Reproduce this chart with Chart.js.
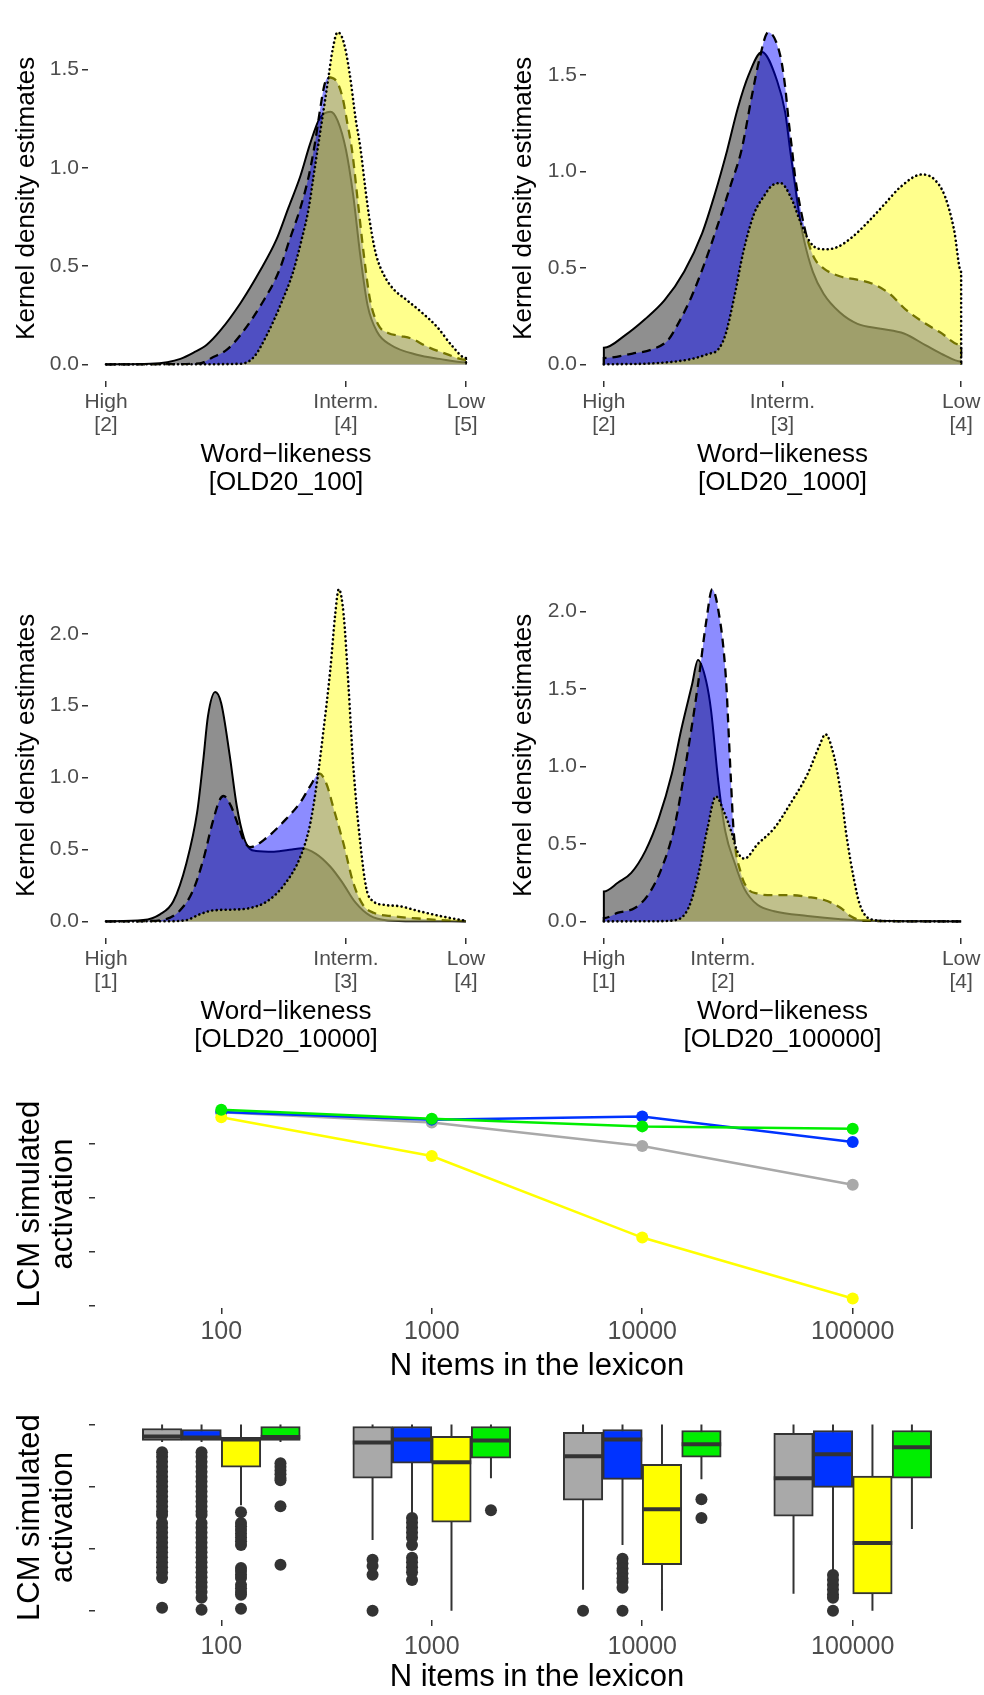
<!DOCTYPE html>
<html>
<head>
<meta charset="utf-8">
<script src="https://cdn.jsdelivr.net/npm/chart.js@4.4.1/dist/chart.umd.min.js"></script>
<style>
  body { margin: 0; background: #ffffff; width: 984px; height: 1695px; position: relative; overflow: hidden; }
  canvas { position: absolute; }
</style>
</head>
<body>
<canvas id="d100" style="left:0px;top:0px" width="492" height="500"></canvas>
<canvas id="d1000" style="left:492px;top:0px" width="492" height="500"></canvas>
<canvas id="d10000" style="left:0px;top:557px" width="492" height="500"></canvas>
<canvas id="d100000" style="left:492px;top:557px" width="492" height="500"></canvas>
<canvas id="lineChart" style="left:0px;top:1090px" width="984" height="297"></canvas>
<canvas id="boxChart" style="left:0px;top:1405px" width="984" height="290"></canvas>
<script>
// density curves: [OLD20 value, density]
const gray100 = [[2.0,0],[2.37,0.003],[2.51,0.011],[2.62,0.028],[2.73,0.06],[2.84,0.10],[2.95,0.17],[3.12,0.311],[3.28,0.472],[3.42,0.634],[3.52,0.796],[3.62,0.958],[3.70,1.12],[3.78,1.25],[3.87,1.285],[3.93,1.24],[4.0,1.09],[4.06,0.86],[4.12,0.55],[4.18,0.30],[4.26,0.165],[4.37,0.10],[4.59,0.049],[4.78,0.028],[5.0,0.011],[5.0,0]];
const blue100 = [[2.0,0],[2.5,0.001],[2.78,0.005],[2.89,0.036],[3.01,0.076],[3.12,0.149],[3.30,0.311],[3.44,0.472],[3.53,0.634],[3.62,0.796],[3.69,0.958],[3.74,1.12],[3.78,1.28],[3.82,1.42],[3.85,1.46],[3.92,1.44],[3.97,1.36],[4.01,1.23],[4.05,1.09],[4.10,0.82],[4.15,0.55],[4.20,0.33],[4.27,0.20],[4.35,0.16],[4.45,0.145],[4.55,0.13],[4.67,0.092],[4.84,0.052],[5.0,0.023],[5.0,0]];
const yellow100 = [[2.0,0],[2.8,0.001],[3.12,0.003],[3.23,0.036],[3.34,0.149],[3.46,0.311],[3.56,0.472],[3.63,0.634],[3.69,0.796],[3.73,0.958],[3.77,1.12],[3.81,1.28],[3.85,1.443],[3.89,1.605],[3.93,1.689],[3.98,1.64],[4.03,1.48],[4.08,1.25],[4.12,1.10],[4.16,0.90],[4.20,0.72],[4.25,0.56],[4.32,0.45],[4.40,0.38],[4.50,0.33],[4.62,0.27],[4.76,0.19],[4.89,0.09],[5.0,0.032],[5.0,0]];

const gray1000 = [[2.0,0],[2.0,0.086],[2.12,0.152],[2.23,0.234],[2.34,0.333],[2.45,0.482],[2.55,0.68],[2.62,0.88],[2.69,1.11],[2.75,1.33],[2.81,1.50],[2.885,1.62],[2.97,1.47],[3.015,1.307],[3.043,1.109],[3.063,0.977],[3.09,0.80],[3.12,0.647],[3.17,0.48],[3.23,0.366],[3.32,0.27],[3.42,0.21],[3.55,0.185],[3.68,0.16],[3.80,0.10],[3.90,0.05],[4.0,0.015],[4.0,0]];
const blue1000 = [[2.0,0],[2.0,0.033],[2.16,0.056],[2.27,0.078],[2.36,0.127],[2.41,0.201],[2.49,0.35],[2.56,0.515],[2.64,0.73],[2.71,0.93],[2.77,1.11],[2.83,1.40],[2.87,1.58],[2.92,1.723],[2.987,1.604],[3.015,1.439],[3.033,1.274],[3.052,1.125],[3.07,0.977],[3.10,0.812],[3.14,0.647],[3.18,0.548],[3.23,0.498],[3.32,0.457],[3.41,0.441],[3.51,0.416],[3.60,0.366],[3.69,0.284],[3.79,0.218],[3.88,0.168],[4.0,0.10],[4.0,0]];
const yellow1000 = [[2.0,0],[2.30,0.007],[2.49,0.028],[2.58,0.053],[2.64,0.078],[2.68,0.152],[2.73,0.35],[2.78,0.581],[2.84,0.779],[2.90,0.878],[2.94,0.927],[2.99,0.94],[3.05,0.86],[3.10,0.74],[3.15,0.64],[3.20,0.60],[3.25,0.597],[3.31,0.61],[3.39,0.66],[3.48,0.74],[3.57,0.83],[3.66,0.92],[3.78,0.985],[3.85,0.96],[3.91,0.87],[3.96,0.70],[4.0,0.48],[4.0,0]];

const gray10000 = [[1.0,0],[1.31,0.009],[1.45,0.049],[1.56,0.138],[1.67,0.405],[1.76,0.761],[1.81,1.117],[1.85,1.429],[1.91,1.595],[1.96,1.517],[2.03,1.16],[2.09,0.801],[2.15,0.58],[2.20,0.503],[2.25,0.49],[2.40,0.485],[2.55,0.50],[2.63,0.509],[2.75,0.47],[2.87,0.38],[2.97,0.27],[3.08,0.13],[3.20,0.04],[3.35,0.007],[3.6,0.001],[4.0,0]];
const blue10000 = [[1.0,0],[1.33,0.002],[1.50,0.016],[1.61,0.071],[1.72,0.205],[1.81,0.427],[1.89,0.694],[1.95,0.85],[1.98,0.872],[2.04,0.805],[2.10,0.672],[2.15,0.56],[2.20,0.516],[2.34,0.583],[2.48,0.694],[2.62,0.828],[2.70,0.939],[2.78,1.028],[2.84,0.95],[2.89,0.805],[2.98,0.538],[3.06,0.27],[3.14,0.116],[3.23,0.06],[3.40,0.035],[3.60,0.02],[3.80,0.008],[4.0,0.002]];
const yellow10000 = [[1.0,0],[1.5,0.001],[1.67,0.009],[1.78,0.049],[1.89,0.076],[2.06,0.082],[2.20,0.093],[2.34,0.138],[2.48,0.249],[2.62,0.45],[2.70,0.672],[2.76,0.979],[2.81,1.312],[2.87,1.757],[2.91,2.135],[2.94,2.31],[2.98,2.135],[3.02,1.646],[3.06,1.09],[3.12,0.538],[3.17,0.227],[3.23,0.138],[3.31,0.116],[3.45,0.105],[3.61,0.071],[3.78,0.038],[4.0,0.004]];

const gray100000 = [[1.0,0],[1.0,0.193],[1.12,0.251],[1.23,0.313],[1.35,0.457],[1.46,0.663],[1.57,0.951],[1.65,1.239],[1.74,1.527],[1.79,1.687],[1.86,1.547],[1.90,1.362],[1.96,0.909],[2.02,0.58],[2.10,0.374],[2.18,0.21],[2.29,0.107],[2.43,0.066],[2.71,0.035],[2.99,0.014],[3.27,0.004],[4.0,0]];
const blue100000 = [[1.0,0],[1.0,0.021],[1.12,0.056],[1.26,0.086],[1.37,0.169],[1.48,0.333],[1.59,0.601],[1.70,1.074],[1.79,1.527],[1.86,1.938],[1.91,2.144],[1.98,1.918],[2.01,1.714],[2.03,1.506],[2.044,1.28],[2.067,0.909],[2.09,0.58],[2.15,0.313],[2.21,0.21],[2.29,0.179],[2.43,0.169],[2.57,0.169],[2.71,0.158],[2.85,0.138],[2.99,0.086],[3.07,0.035],[3.18,0.004],[4.0,0]];
const yellow100000 = [[1.0,0],[1.40,0.001],[1.60,0.008],[1.71,0.086],[1.79,0.292],[1.87,0.601],[1.94,0.807],[2.01,0.704],[2.07,0.58],[2.12,0.453],[2.18,0.405],[2.29,0.498],[2.43,0.601],[2.57,0.765],[2.71,0.951],[2.81,1.134],[2.86,1.208],[2.93,1.074],[2.99,0.827],[3.04,0.539],[3.10,0.272],[3.15,0.107],[3.24,0.014],[3.40,0.002],[4.0,0]];

const densTicks15 = [0, 0.5, 1.0, 1.5];
const densTicks20 = [0, 0.5, 1.0, 1.5, 2.0];

// mean activation per lexicon size
const lexiconSizes = ['100', '1000', '10000', '100000'];
const meanGray = [0.915, 0.877, 0.790, 0.647];
const meanBlue = [0.916, 0.888, 0.900, 0.805];
const meanYellow = [0.897, 0.753, 0.451, 0.225];
const meanGreen = [0.925, 0.891, 0.863, 0.854];
const lineTicksY = [0.2, 0.4, 0.6, 0.8];

// boxplots: [lower whisker, q1, median, q3, upper whisker] per lexicon size
const grayBox = [[0.93,0.936,0.952,0.984,1.0],[0.535,0.784,0.928,0.992,1.0],[0.334,0.695,0.872,0.968,1.0],[0.318,0.631,0.784,0.964,1.0]];
const blueBox = [[0.93,0.936,0.948,0.980,1.0],[0.635,0.844,0.940,0.992,1.0],[0.515,0.779,0.940,0.980,1.0],[0.414,0.747,0.880,0.976,1.0]];
const yellowBox = [[0.675,0.828,0.940,0.948,1.0],[0.25,0.607,0.848,0.952,1.0],[0.25,0.435,0.659,0.840,1.0],[0.25,0.318,0.523,0.792,1.0]];
const greenBox = [[0.93,0.936,0.950,0.992,1.0],[0.784,0.864,0.936,0.992,1.0],[0.779,0.868,0.920,0.976,1.0],[0.579,0.784,0.908,0.976,1.0]];
const grayOut = [
  [0.888,0.87,0.85,0.83,0.81,0.79,0.77,0.75,0.73,0.71,0.69,0.67,0.65,0.635,0.603,0.585,0.565,0.545,0.525,0.505,0.485,0.465,0.445,0.425,0.405,0.382,0.262],
  [0.455,0.43,0.395,0.25],
  [0.25],
  []
];
const blueOut = [
  [0.888,0.87,0.85,0.83,0.81,0.79,0.77,0.75,0.73,0.71,0.69,0.67,0.65,0.635,0.603,0.585,0.565,0.545,0.525,0.505,0.485,0.465,0.445,0.425,0.405,0.385,0.365,0.345,0.325,0.302,0.254],
  [0.623,0.605,0.585,0.565,0.545,0.515,0.463,0.445,0.425,0.405,0.374],
  [0.459,0.44,0.42,0.40,0.38,0.366,0.342,0.25],
  [0.394,0.375,0.355,0.335,0.315,0.302,0.25]
];
const yellowOut = [
  [0.647,0.603,0.59,0.575,0.56,0.545,0.53,0.515,0.422,0.41,0.395,0.382,0.354,0.34,0.325,0.314,0.258],
  [],
  [],
  []
];
const greenOut = [
  [0.844,0.83,0.815,0.80,0.785,0.775,0.671,0.435],
  [0.655],
  [0.699,0.623],
  []
];
const boxTicksY = [0.25, 0.5, 0.75, 1.0];

Chart.defaults.font.family = "'Liberation Sans', Arial, sans-serif";
Chart.defaults.color = '#4d4d4d';

const curveFills = ['rgba(0,0,0,0.44)', 'rgba(0,0,255,0.45)', 'rgba(255,255,0,0.45)'];
const curveDashes = [[], [9, 6], [0.1, 4.4]];
const curveWidths = [2, 2.3, 2.6];
const curveCaps = ['butt', 'butt', 'round'];
const seriesColors = ['#a9a9a9', '#0033ff', '#ffff00', '#00ee00'];
const boxDodge = [-0.28125, -0.09375, 0.09375, 0.28125];

function tickGrid() {
  return { offset: false, drawOnChartArea: false, drawTicks: true, tickLength: 6, color: '#333333', lineWidth: 1.5 };
}

function expanded(values) {
  const lo = Math.min(...values), hi = Math.max(...values);
  const pad = (hi - lo) * 0.05;
  return [lo - pad, hi + pad];
}

function densityChart(id, curves, xTicks, xTickLabels, xTitle, yTicks, leftWidth, yTitlePad, rightPad) {
  const xSpan = xTicks[xTicks.length - 1] - xTicks[0];
  const yRange = expanded(curves.flat().map(p => p[1]));
  new Chart(document.getElementById(id), {
    type: 'line',
    data: {
      datasets: curves.map((c, i) => ({
        data: c.map(p => ({ x: p[0], y: p[1] })),
        borderColor: '#000000',
        backgroundColor: curveFills[i],
        fill: 'origin',
        borderWidth: curveWidths[i],
        borderDash: curveDashes[i],
        borderCapStyle: curveCaps[i],
        pointRadius: 0,
        cubicInterpolationMode: 'monotone',
        order: 3 - i
      }))
    },
    options: {
      responsive: false,
      animation: false,
      layout: { autoPadding: false, padding: { left: 0, right: rightPad, top: 0, bottom: 0 } },
      plugins: { legend: { display: false }, tooltip: { enabled: false } },
      scales: {
        x: {
          type: 'linear',
          offset: false,
          min: xTicks[0] - 0.05 * xSpan,
          max: xTicks[xTicks.length - 1] + 0.05 * xSpan,
          afterBuildTicks: s => { s.ticks = xTicks.map(v => ({ value: v })); },
          afterFit: s => { s.height = 119; },
          ticks: { autoSkip: false, maxRotation: 0, padding: 3.5, color: '#4d4d4d',
                   font: { size: 21, lineHeight: 1.1 }, callback: (v, i) => xTickLabels[i] },
          grid: tickGrid(),
          border: { display: false },
          title: { display: true, text: xTitle, color: '#000000',
                   font: { size: 26, lineHeight: 1.077 }, padding: { top: 0, bottom: 3 } }
        },
        y: {
          type: 'linear',
          min: yRange[0],
          max: yRange[1],
          afterBuildTicks: s => { s.ticks = yTicks.map(v => ({ value: v })); },
          afterFit: s => { s.width = leftWidth; },
          ticks: { autoSkip: false, padding: 3, color: '#4d4d4d', font: { size: 21 },
                   callback: v => v.toFixed(1) },
          grid: tickGrid(),
          border: { display: false },
          title: { display: true, text: 'Kernel density estimates', color: '#000000',
                   font: { size: 26, lineHeight: 1.077 }, padding: { top: yTitlePad, bottom: 0 } }
        }
      }
    }
  });
}

densityChart('d100', [gray100, blue100, yellow100], [2, 4, 5],
  [['High', '[2]'], ['Interm.', '[4]'], ['Low', '[5]']],
  ['Word\u2212likeness', '[OLD20_100]'], densTicks15, 88, 13, 8);
densityChart('d1000', [gray1000, blue1000, yellow1000], [2, 3, 4],
  [['High', '[2]'], ['Interm.', '[3]'], ['Low', '[4]']],
  ['Word\u2212likeness', '[OLD20_1000]'], densTicks15, 94, 18, 2);
densityChart('d10000', [gray10000, blue10000, yellow10000], [1, 3, 4],
  [['High', '[1]'], ['Interm.', '[3]'], ['Low', '[4]']],
  ['Word\u2212likeness', '[OLD20_10000]'], densTicks20, 88, 13, 8);
densityChart('d100000', [gray100000, blue100000, yellow100000], [1, 2, 4],
  [['High', '[1]'], ['Interm.', '[2]'], ['Low', '[4]']],
  ['Word\u2212likeness', '[OLD20_100000]'], densTicks20, 94, 18, 2);

function lexiconX(bottomHeight, tickPad, titleLineHeight, titlePadBottom) {
  return {
    type: 'linear',
    offset: false,
    min: -0.6,
    max: lexiconSizes.length - 0.4,
    afterBuildTicks: s => { s.ticks = lexiconSizes.map((_, i) => ({ value: i })); },
    afterFit: s => { s.height = bottomHeight; },
    ticks: { autoSkip: false, maxRotation: 0, padding: tickPad, color: '#4d4d4d',
             font: { size: 25, lineHeight: 1.2 }, callback: (v, i) => lexiconSizes[i] },
    grid: tickGrid(),
    border: { display: false },
    title: { display: true, text: 'N items in the lexicon', color: '#000000',
             font: { size: 31, lineHeight: titleLineHeight }, padding: { top: 0, bottom: titlePadBottom } }
  };
}

function activationY(range, ticks) {
  return {
    type: 'linear',
    min: range[0],
    max: range[1],
    beginAtZero: false,
    afterBuildTicks: s => { s.ticks = ticks.map(v => ({ value: v })); },
    afterFit: s => { s.width = 95; },
    ticks: { autoSkip: false, padding: 3, callback: () => '' },
    grid: tickGrid(),
    border: { display: false },
    title: { display: true, text: ['LCM simulated', 'activation'], color: '#000000',
             font: { size: 31, lineHeight: 1.065 }, padding: { top: 13.5, bottom: 0 } }
  };
}

// line chart of mean activation
const means = [meanGray, meanBlue, meanYellow, meanGreen];
new Chart(document.getElementById('lineChart'), {
  type: 'line',
  data: {
    datasets: means.map((vals, k) => ({
      data: vals.map((v, i) => ({ x: i, y: v })),
      borderColor: seriesColors[k],
      backgroundColor: seriesColors[k],
      pointBackgroundColor: seriesColors[k],
      pointBorderWidth: 0,
      pointRadius: 6,
      borderWidth: 2.5,
      fill: false,
      order: 4 - k
    }))
  },
  options: {
    responsive: false,
    animation: false,
    layout: { autoPadding: false, padding: { left: 0, right: 5, top: 10, bottom: 0 } },
    plugins: { legend: { display: false }, tooltip: { enabled: false } },
    scales: {
      x: lexiconX(79, 3, 1.2, 2.4),
      y: activationY(expanded(means.flat()), lineTicksY)
    }
  }
});

// boxplots
const boxSets = [grayBox, blueBox, yellowBox, greenBox];
const outSets = [grayOut, blueOut, yellowOut, greenOut];
const whiskerPoints = [];
const medianPoints = [];
const outlierPoints = [];
boxSets.forEach((set, k) => set.forEach((b, g) => {
  const x = g + boxDodge[k];
  whiskerPoints.push({ x: x, y: b[0] }, { x: x, y: b[4] }, { x: x, y: null });
  medianPoints.push({ x: x, y: b[2] });
  outSets[k][g].forEach(v => outlierPoints.push({ x: x, y: v }));
}));
const allBoxValues = boxSets.flat(2).concat(outSets.flat(2));

new Chart(document.getElementById('boxChart'), {
  type: 'scatter',
  data: {
    datasets: [
      {
        type: 'line',
        data: whiskerPoints,
        borderColor: '#333333',
        borderWidth: 2,
        pointRadius: 0,
        fill: false,
        spanGaps: false,
        order: 4
      },
      ...boxSets.map((set, k) => ({
        type: 'bar',
        data: set.map((b, g) => ({ x: g + boxDodge[k], y: [b[1], b[3]] })),
        backgroundColor: seriesColors[k],
        borderColor: '#333333',
        borderWidth: 2,
        borderSkipped: false,
        barThickness: 39.5,
        grouped: false,
        order: 3
      })),
      {
        type: 'scatter',
        data: medianPoints,
        pointStyle: 'line',
        pointRadius: 19.75,
        pointBorderWidth: 4,
        pointBorderColor: '#333333',
        order: 2
      },
      {
        type: 'scatter',
        data: outlierPoints,
        pointRadius: 6,
        pointBackgroundColor: '#333333',
        pointBorderWidth: 0,
        order: 1
      }
    ]
  },
  options: {
    responsive: false,
    animation: false,
    layout: { autoPadding: false, padding: { left: 0, right: 5, top: 10, bottom: 0 } },
    plugins: { legend: { display: false }, tooltip: { enabled: false } },
    scales: {
      x: lexiconX(75, 6, 1.1, 0),
      y: activationY(expanded(allBoxValues), boxTicksY)
    }
  }
});
</script>
</body>
</html>
